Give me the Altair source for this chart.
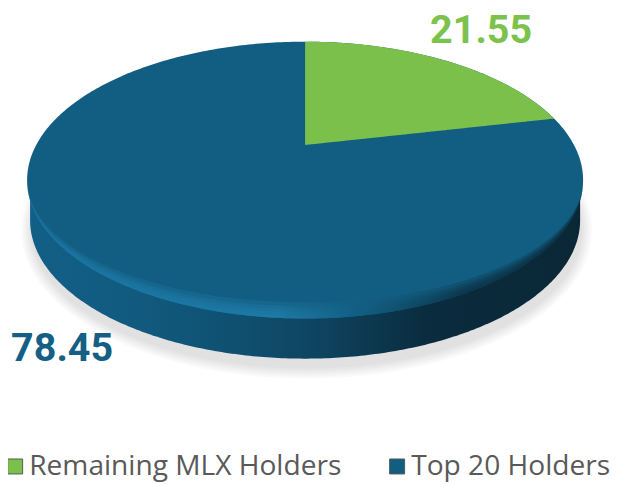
import numpy as np
import pandas as pd
import altair as alt

categories = ["Remaining MLX Holders", "Top 20 Holders"]
shares = [21.55, 78.45]
colors = ["#7BC04B", "#125E82"]
label_colors = ["#7DC24C", "#155F85"]

# page-pixel geometry of the tilted disc
CX, CY, RX, RY, DEPTH = 305.0, 180.0, 278.0, 138.0, 40.0
APEX_Y = 145.0
K = (CY - APEX_Y) / RY


def sweep(x0, x1, n=240):
    t = np.linspace(0, np.pi, n)
    return (x0 + x1) / 2 - (x1 - x0) / 2 * np.cos(t)


def half(x, cx, rx, ry):
    return ry * np.sqrt(np.clip(1 - ((x - cx) / rx) ** 2, 0, 1))


def rim(share):
    a = 2 * np.pi * share / 100
    u, v = np.sin(a), np.cos(a)
    d = 1 + K * v
    return CX + RX * u * np.sqrt(1 - K**2) / d, CY - RY * (v + K) / d


xs = sweep(CX - RX, CX + RX)
face = pd.DataFrame({"x": xs, "y": CY - half(xs, CX, RX, RY), "y2": CY + half(xs, CX, RX, RY), "holder": categories[1]})

ex, ey = rim(shares[0])
xw = CX + (ex - CX) * np.linspace(0, 1, 200)
wedge = pd.DataFrame({"x": xw, "y": CY - half(xw, CX, RX, RY), "y2": APEX_Y + (ey - APEX_Y) * (xw - CX) / (ex - CX), "holder": categories[0]})

sx = sweep(CX - RX + 3, CX + RX - 3)
side = pd.DataFrame({"x": sx, "y": np.full(sx.shape, CY), "y2": CY + DEPTH + half(sx, CX, RX - 3, RY)})

rings = []
for i, grow in enumerate([0, 2, 4, 6, 8, 10]):
    x = sweep(CX - RX - grow + 4, CX + RX + grow - 1, 160)
    h = half(x, CX + 1.5, RX + grow - 2.5, RY + grow)
    rings.append(pd.DataFrame({"x": x, "y": CY + 50 - h, "y2": CY + 50 + h, "ring": i}))
shadow = pd.concat(rings)

crescents = []
for i, inset in enumerate([16, 12, 9, 6, 3]):
    crescents.append(pd.DataFrame({"x": xs, "y": CY + half(xs, CX, RX, RY - inset), "y2": CY + half(xs, CX, RX, RY), "band": i}))
crescent = pd.concat(crescents)

labels = pd.DataFrame({"x": [430, 11], "y": [43, 360], "t": [f"{s:.2f}" for s in shares], "holder": categories})

# the page is photographed slightly reduced, so these domains keep picture pixels as data units
X = alt.X("x:Q", scale=alt.Scale(domain=[7.9, 614.9], nice=False, zero=False), axis=None)
Y = alt.Y("y:Q", scale=alt.Scale(domain=[479.9, 11.5], nice=False, zero=False), axis=None, stack=None)
Y2 = alt.Y2("y2:Q")
color = alt.Color(
    "holder:N",
    scale=alt.Scale(domain=categories, range=colors),
    legend=alt.Legend(
        title=None, orient="none", legendX=-7, legendY=447, direction="horizontal", padding=0,
        symbolType="square", symbolSize=230, symbolStrokeWidth=1, symbolStrokeColor="#4f5b55", symbolOpacity=1,
        labelFontSize=28.5, labelFont="Open Sans", labelColor="#595959", labelOffset=0,
        columnPadding=42, labelLimit=400,
    ),
)

shadow_l = alt.Chart(shadow).mark_area(color="#000000", opacity=0.02, orient="vertical").encode(X, Y, Y2, detail="ring:N")
side_l = alt.Chart(side).mark_area(
    orient="vertical",
    color=alt.Gradient(
        gradient="linear", x1=0, x2=1, y1=0, y2=0,
        stops=[
            alt.GradientStop(offset=0, color="#125F87"),
            alt.GradientStop(offset=0.2, color="#115A7E"),
            alt.GradientStop(offset=0.4, color="#0F4E6E"),
            alt.GradientStop(offset=0.55, color="#0E415C"),
            alt.GradientStop(offset=0.72, color="#0A2C3E"),
            alt.GradientStop(offset=1, color="#0A2736"),
        ],
    ),
).encode(X, Y, Y2)
face_l = alt.Chart(face).mark_area(orient="vertical").encode(X, Y, Y2, color)
wedge_l = alt.Chart(wedge).mark_area(orient="vertical").encode(X, Y, Y2, color)
bevel_l = alt.Chart(crescent).mark_area(
    orient="vertical", opacity=0.28,
    color=alt.Gradient(
        gradient="linear", x1=0, x2=1, y1=0, y2=0,
        stops=[
            alt.GradientStop(offset=0, color="#1B78A6"),
            alt.GradientStop(offset=0.45, color="#2180AE"),
            alt.GradientStop(offset=0.6, color="#125E82"),
            alt.GradientStop(offset=0.78, color="#0A2F42"),
            alt.GradientStop(offset=1, color="#0A2736"),
        ],
    ),
).encode(X, Y, Y2, detail="band:N")

text_green = alt.Chart(labels[labels.holder == categories[0]]).mark_text(
    align="left", baseline="alphabetic", font="Roboto", fontWeight="bold", fontSize=40, color=label_colors[0]
).encode(X, Y, text="t:N")
text_blue = alt.Chart(labels[labels.holder == categories[1]]).mark_text(
    align="left", baseline="alphabetic", font="Roboto", fontWeight="bold", fontSize=40, color=label_colors[1]
).encode(X, Y, text="t:N")

chart = (
    alt.layer(shadow_l, side_l, face_l, bevel_l, wedge_l, text_green, text_blue)
    .properties(width=615, height=476, padding=0, autosize=alt.AutoSizeParams(type="none"), background="white")
    .configure_view(stroke=None)
)
chart.save("out.html", embed_options={"renderer": "svg", "actions": False})
